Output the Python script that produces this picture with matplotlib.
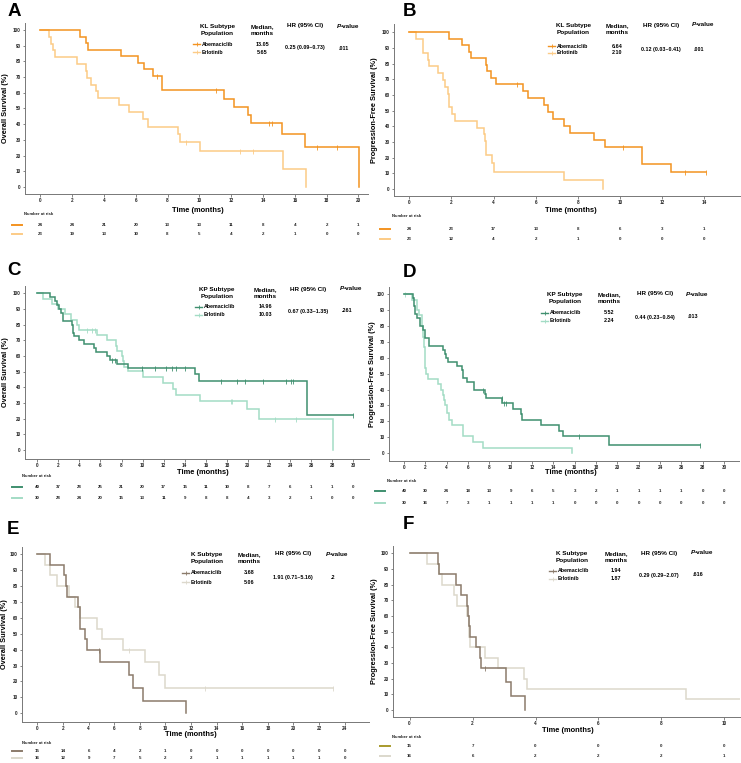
import matplotlib
matplotlib.use("Agg")
import matplotlib.pyplot as plt
from matplotlib.lines import Line2D
from matplotlib.transforms import blended_transform_factory

plt.rcParams['font.family'] = ['Liberation Sans', 'DejaVu Sans']

W, H = 741, 763

# ---- data (time in months, survival in %) ----
A_abem_t = [2.52, 2.86, 2.98, 5.10, 6.13, 6.50, 7.06, 7.65, 11.53, 12.16, 13.05, 13.26, 15.17, 16.62, 20.04]
A_abem_s = [95.8, 91.7, 87.5, 83.3, 79.2, 75.0, 70.8, 62.0, 55.8, 50.9, 46.0, 40.7, 34.0, 25.5, 0]
A_abem_c = [7.33, 11.05, 14.37, 14.54, 17.40, 18.68]
A_erl_t = [0.57, 0.65, 0.82, 0.92, 2.33, 2.88, 2.96, 3.19, 3.53, 3.61, 4.92, 5.59, 6.43, 6.74, 8.68, 8.78, 10.02, 15.27, 16.70]
A_erl_s = [95.7, 91.3, 87.0, 82.6, 78.3, 73.9, 69.6, 65.2, 60.9, 56.5, 52.2, 47.8, 43.5, 38.2, 33.5, 28.5, 22.8, 11.4, 0]
A_erl_c = [9.18, 12.58, 13.36]

B_abem_t = [1.86, 2.51, 2.85, 2.95, 3.64, 3.69, 3.86, 4.13, 5.38, 5.62, 6.39, 6.59, 6.83, 7.33, 7.62, 8.75, 9.29, 11.06, 12.40]
B_abem_s = [95.8, 91.7, 87.5, 83.3, 79.2, 75.0, 70.8, 66.7, 62.3, 57.9, 53.6, 49.1, 44.6, 40.2, 35.7, 31.3, 26.8, 16.0, 10.7]
B_abem_c = [5.09, 10.13, 13.10, 14.10]
B_erl_t = [0.30, 0.63, 0.66, 0.88, 0.95, 1.37, 1.58, 1.69, 1.83, 1.86, 2.02, 2.16, 3.19, 3.55, 3.60, 3.66, 3.94, 4.00, 7.32, 9.21]
B_erl_s = [95.7, 91.3, 87.0, 82.6, 78.3, 73.9, 69.6, 65.2, 60.9, 52.2, 47.8, 43.5, 39.1, 34.8, 30.4, 21.7, 16.3, 10.9, 5.4, 0]
B_erl_c = []

C_abem_t = [1.20, 1.68, 1.90, 2.09, 2.25, 2.40, 3.26, 3.38, 3.48, 3.92, 4.46, 5.38, 5.54, 6.58, 6.90, 7.60, 8.58, 14.97, 15.38, 25.57]
C_abem_s = [97.5, 95.0, 92.5, 90.0, 87.5, 82.5, 80.0, 75.0, 72.5, 70.0, 67.5, 65.0, 62.5, 60.0, 57.5, 55.0, 52.3, 48.3, 44.3, 22.2]
C_abem_c = [7.1, 7.4, 9.94, 11.17, 12.2, 12.75, 13.16, 14.05, 17.47, 18.99, 19.72, 21.46, 23.6, 24.08, 24.24, 29.94]
C_erl_t = [0.57, 1.36, 2.0, 2.6, 3.16, 3.80, 3.99, 5.63, 6.58, 7.47, 7.60, 8.0, 8.1, 8.23, 8.6, 10.06, 11.96, 12.9, 13.2, 15.44, 19.87, 21.08, 28.1]
C_erl_s = [96.7, 93.3, 90.0, 86.7, 83.3, 80.0, 76.7, 73.3, 70.0, 66.7, 63.3, 60.0, 56.7, 53.3, 50.6, 46.9, 43.0, 39.0, 35.2, 31.3, 25.9, 19.7, 0]
C_erl_c = [4.75, 5.16, 5.47, 18.35, 18.5, 22.6, 24.6]

D_abem_t = [0.81, 0.94, 1.03, 1.19, 1.50, 1.81, 1.97, 2.31, 3.63, 3.84, 3.94, 4.16, 5.0, 5.4, 5.5, 5.88, 6.56, 7.6, 7.72, 9.2, 10.19, 10.94, 11.03, 12.84, 14.56, 14.88, 19.25]
D_abem_s = [97.5, 92.5, 87.5, 85.0, 80.0, 77.5, 72.5, 67.5, 65.0, 62.5, 60.0, 57.5, 55.0, 52.5, 47.5, 45.0, 40.0, 37.5, 34.7, 31.7, 27.8, 24.6, 21.0, 17.4, 14.0, 10.5, 5.2]
D_abem_c = [7.44, 9.16, 9.34, 9.56, 16.44, 27.7]
D_erl_t = [0.72, 1.19, 1.42, 1.66, 1.81, 1.87, 1.93, 2.0, 2.06, 2.28, 3.22, 3.44, 3.69, 3.75, 3.84, 4.0, 4.25, 4.47, 5.5, 6.44, 7.38, 15.72]
D_erl_s = [96.7, 90.0, 86.7, 80.0, 73.3, 66.7, 60.0, 53.3, 50.0, 46.7, 43.3, 40.0, 36.7, 33.3, 30.0, 25.0, 21.0, 17.5, 10.5, 7.0, 3.5, 0]
D_erl_c = [0.1]

E_abem_t = [0.99, 2.08, 2.23, 2.34, 3.19, 3.30, 3.34, 3.69, 3.84, 4.86, 7.19, 7.43, 8.26, 11.64]
E_abem_s = [93.3, 86.7, 80.0, 73.3, 66.7, 60.0, 53.3, 46.7, 40.0, 32.0, 24.0, 16.0, 8.0, 0]
E_abem_c = [4.81]
E_erl_t = [0.57, 0.99, 1.51, 2.47, 2.94, 3.32, 4.62, 5.06, 6.68, 8.44, 9.53, 9.95]
E_erl_s = [93.3, 86.7, 80.0, 73.3, 66.7, 60.0, 53.3, 46.7, 40.0, 32.0, 24.0, 16.0]
E_erl_c = [7.14, 13.06, 23.1]

F_abem_t = [0.89, 0.94, 1.48, 1.63, 1.83, 1.85, 1.87, 1.93, 2.10, 2.25, 2.28, 3.07, 3.23, 3.65]
F_abem_s = [93.3, 86.7, 80.0, 73.3, 66.7, 60.0, 53.3, 46.7, 40.0, 33.3, 26.7, 17.8, 8.9, 0]
F_abem_c = [2.41]
F_erl_t = [0.55, 0.92, 1.03, 1.40, 1.51, 1.83, 1.88, 1.91, 2.41, 2.80, 3.63, 3.74, 8.78]
F_erl_s = [93.3, 86.7, 80.0, 73.3, 66.7, 60.0, 46.7, 40.0, 33.3, 26.7, 20.0, 13.3, 6.7]
F_erl_c = []

# numbers at risk
A_risk = [[24, 24, 21, 20, 13, 13, 11, 8, 4, 2, 1], [23, 19, 13, 10, 8, 5, 4, 2, 1, 0, 0]]
B_risk = [[24, 23, 17, 13, 8, 6, 3, 1], [23, 12, 4, 2, 1, 0, 0, 0]]
C_risk = [[40, 37, 28, 25, 21, 20, 17, 15, 11, 10, 8, 7, 6, 1, 1, 0],
          [30, 28, 24, 20, 15, 13, 11, 9, 8, 8, 4, 3, 2, 1, 0, 0]]
D_risk = [[40, 30, 24, 18, 13, 9, 6, 5, 3, 2, 1, 1, 1, 1, 0, 0],
          [30, 16, 7, 3, 1, 1, 1, 1, 0, 0, 0, 0, 0, 0, 0, 0]]
E_risk = [[15, 14, 6, 4, 2, 1, 0, 0, 0, 0, 0, 0, 0], [16, 12, 9, 7, 5, 2, 2, 1, 1, 1, 1, 1, 0]]
F_risk = [[15, 7, 0, 0, 0, 0], [16, 6, 2, 2, 2, 1]]

subtypes = ["KL", "KL", "KP", "KP", "K", "K"]
medians = [("13.05", "5.65"), ("6.64", "2.10"), ("14.96", "10.03"), ("5.52", "2.24"), ("3.68", "5.06"), ("1.94", "1.87")]
hrs = ["0.25 (0.09\u20130.73)", "0.12 (0.03\u20130.41)", "0.67 (0.33\u20131.35)",
       "0.44 (0.23\u20130.84)", "1.91 (0.71\u20135.16)", "0.29 (0.29\u20132.07)"]
pvals = [".011", ".001", ".261", ".013", ".2", ".616"]
ylabels = ["Overall Survival (%)", "Progression-Free Survival (%)"] * 3

# colours (abemaciclib, erlotinib)
COLORS = [("#F39320", "#FCCB86"), ("#F39320", "#FCCB86"), ("#3F8F6F", "#A3DCC5"),
          ("#3F8F6F", "#A3DCC5"), ("#8B7B6B", "#DCD8CC"), ("#8B7B6B", "#DCD8CC")]

# ---- layout in pixels ----
PANELS = [
    dict(letter="A", box=(25, 23, 368, 194), xlim=(-0.96, 20.6), ylim=(-4.5, 104.5), xmax=20,
         lpos=(8, 3), cols=(217, 262, 305, 348), hy=30, ry=(44, 52), mx=197, ylx=6,
         tpos=(198, 211), rh=(24, 214), rr=(225, 234), rl=(12, 22), end=(20.04, 16.70)),
    dict(letter="B", box=(394, 24, 740, 196), xlim=(-0.73, 15.7), ylim=(-4.5, 105.3), xmax=14,
         lpos=(403, 3), cols=(573, 617, 661, 703), hy=29, ry=(46, 53), mx=552, ylx=375,
         tpos=(571, 210), rh=(392, 216), rr=(229, 239), rl=(380, 390), end=(14.10, 9.21)),
    dict(letter="C", box=(25, 286, 369, 459), xlim=(-1.17, 31.5), ylim=(-5.7, 104.7), xmax=30,
         lpos=(7, 262), cols=(217, 265, 308, 351), hy=293, ry=(307, 315), mx=199, ylx=6,
         tpos=(203, 472), rh=(22, 476), rr=(487, 498), rl=(12, 22), end=(29.94, 28.1)),
    dict(letter="D", box=(389, 287, 739, 461), xlim=(-1.4, 31.4), ylim=(-5.0, 104.6), xmax=30,
         lpos=(403, 264), cols=(565, 609, 655, 697), hy=298, ry=(313, 321), mx=545, ylx=372,
         tpos=(571, 473), rh=(387, 481), rr=(491, 503), rl=(375, 385), end=(27.7, 15.72)),
    dict(letter="E", box=(22, 547, 369, 722), xlim=(-1.2, 25.9), ylim=(-5.5, 104.6), xmax=24,
         lpos=(7, 521), cols=(207, 249, 293, 337), hy=558, ry=(573, 582), mx=186, ylx=5,
         tpos=(191, 735), rh=(22, 743), rr=(751, 758), rl=(12, 22), end=(11.64, 23.1)),
    dict(letter="F", box=(393, 546, 740, 717), xlim=(-0.53, 10.5), ylim=(-4.5, 104.7), xmax=10,
         lpos=(403, 516), cols=(572, 616, 659, 702), hy=557, ry=(571, 579), mx=553, ylx=375,
         tpos=(568, 731), rh=(392, 737), rr=(746, 756), rl=(380, 390), end=(3.65, 10.7)),
]

CURVES = [
    (A_abem_t, A_abem_s, A_abem_c, A_erl_t, A_erl_s, A_erl_c, A_risk),
    (B_abem_t, B_abem_s, B_abem_c, B_erl_t, B_erl_s, B_erl_c, B_risk),
    (C_abem_t, C_abem_s, C_abem_c, C_erl_t, C_erl_s, C_erl_c, C_risk),
    (D_abem_t, D_abem_s, D_abem_c, D_erl_t, D_erl_s, D_erl_c, D_risk),
    (E_abem_t, E_abem_s, E_abem_c, E_erl_t, E_erl_s, E_erl_c, E_risk),
    (F_abem_t, F_abem_s, F_abem_c, F_erl_t, F_erl_s, F_erl_c, F_risk),
]

RISK_LINE_F = "#A89A2C"


def fx(x):
    return x / W


def fy(y):
    return 1 - y / H


def surv_at(t, times, surv):
    s = 100.0
    for ti, si in zip(times, surv):
        if ti <= t:
            s = si
    return s


def draw_km(ax, times, surv, cens, end, color):
    x = [0] + list(times) + [end]
    y = [100] + list(surv) + [surv[-1]]
    ax.step(x, y, where='post', color=color, lw=1.1, solid_joinstyle='miter')
    if cens:
        ax.plot(cens, [surv_at(c, times, surv) for c in cens], ls='none', marker='|',
                ms=3.6, mew=0.6, color=color)


fig = plt.figure(figsize=(W / 100, H / 100), dpi=100)

for i, p in enumerate(PANELS):
    at, as_, ac, et, es, ec, risk = CURVES[i]
    c_ab, c_er = COLORS[i]
    l, t, r, b = p["box"]
    ax = fig.add_axes([fx(l), fy(b), (r - l) / W, (b - t) / H])
    ax.set_xlim(*p["xlim"])
    ax.set_ylim(*p["ylim"])
    draw_km(ax, et, es, ec, p["end"][1], c_er)
    draw_km(ax, at, as_, ac, p["end"][0], c_ab)

    xt = list(range(0, p["xmax"] + 1, 2))
    ax.set_xticks(xt)
    ax.set_yticks(range(0, 101, 10))
    ax.tick_params(labelsize=3.3, length=1.8, width=0.5, pad=1.2, colors="#555", labelcolor="#222")
    for lab in ax.get_xticklabels() + ax.get_yticklabels():
        lab.set_fontweight("bold")
    for s in ["top", "right"]:
        ax.spines[s].set_visible(False)
    for s in ["left", "bottom"]:
        ax.spines[s].set_color("#777")
        ax.spines[s].set_linewidth(0.7)

    # panel letter, axis titles
    fig.text(fx(p["lpos"][0]), fy(p["lpos"][1]), p["letter"], fontsize=13.5, fontweight="bold",
             va="top", ha="left")
    fig.text(fx(p["ylx"]), fy((t + b) / 2), ylabels[i], rotation=90, fontsize=5.3,
             fontweight="bold", ha="center", va="center")
    fig.text(fx(p["tpos"][0]), fy(p["tpos"][1]), "Time (months)", fontsize=5.4,
             fontweight="bold", ha="center", va="center")

    # legend table
    c1, c2, c3, c4 = p["cols"]
    hy = p["hy"]
    ya, ye = p["ry"]
    fig.text(fx(c1), fy(hy), f"{subtypes[i]} Subtype\nPopulation", fontsize=4.6, fontweight="bold",
             ha="center", va="center", linespacing=1.3)
    fig.text(fx(c2), fy(hy), "Median,\nmonths", fontsize=4.6, fontweight="bold",
             ha="center", va="center", linespacing=1.3)
    fig.text(fx(c3), fy(hy - 4), "HR (95% CI)", fontsize=4.6, fontweight="bold", ha="center", va="center")
    fig.text(fx(c4 - 7), fy(hy - 4), "P", fontsize=4.6, fontweight="bold", style="italic",
             ha="right", va="center")
    fig.text(fx(c4 - 7), fy(hy - 4), "-value", fontsize=4.6, fontweight="bold", ha="left", va="center")
    mx = p["mx"]
    for yy, col, name, med in [(ya, c_ab, "Abemaciclib", medians[i][0]), (ye, c_er, "Erlotinib", medians[i][1])]:
        fig.add_artist(Line2D([fx(mx - 4), fx(mx + 3)], [fy(yy), fy(yy)], color=col, lw=1.0,
                              transform=fig.transFigure))
        fig.add_artist(Line2D([fx(mx)], [fy(yy)], color=col, marker="|", ms=3.2, mew=0.6,
                              transform=fig.transFigure))
        fig.text(fx(mx + 5), fy(yy), name, fontsize=3.8, fontweight="bold", ha="left", va="center")
        fig.text(fx(c2), fy(yy), med, fontsize=3.9, fontweight="bold", ha="center", va="center")
    fig.text(fx(c3), fy((ya + ye) / 2), hrs[i], fontsize=3.9, fontweight="bold", ha="center", va="center")
    fig.text(fx(c4 - 4), fy((ya + ye) / 2), pvals[i], fontsize=3.9, fontweight="bold", ha="center", va="center")

    # number at risk table
    fig.text(fx(p["rh"][0]), fy(p["rh"][1]), "Number at risk", fontsize=3.1, fontweight="bold",
             ha="left", va="center", color="#222")
    tr = blended_transform_factory(ax.transData, fig.transFigure)
    line_cols = [c_ab if p["letter"] != "F" else RISK_LINE_F, c_er]
    for row, yy, lc in zip(risk, p["rr"], line_cols):
        fig.add_artist(Line2D([fx(p["rl"][0]), fx(p["rl"][1])], [fy(yy), fy(yy)], color=lc, lw=1.4,
                              transform=fig.transFigure))
        for xv, n in zip(xt, row):
            ax.text(xv, fy(yy), str(n), transform=tr, fontsize=3.2, fontweight="bold",
                    ha="center", va="center", color="#222", clip_on=False)

fig.savefig("out.png", dpi=100)
